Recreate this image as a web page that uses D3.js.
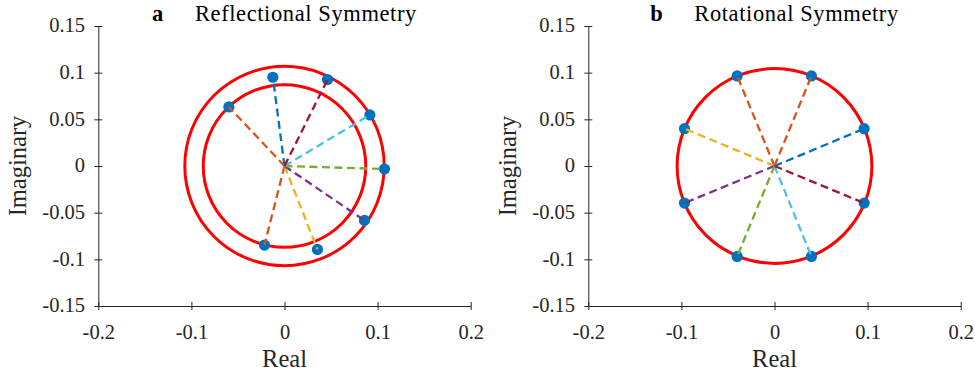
<!DOCTYPE html>
<html>
<head>
<meta charset="utf-8">
<script src="https://cdn.jsdelivr.net/npm/d3@7"></script>
<style>
  html, body { margin: 0; padding: 0; background: #fff; }
  svg { display: block; }
  text { font-family: "Liberation Serif", "Times New Roman", serif; fill: #262626; }
</style>
</head>
<body>
<svg id="chart" width="975" height="376"></svg>
<script>
// ---------------- data ----------------
const xTicks = [-0.2, -0.1, 0, 0.1, 0.2];
const xTickLabels = ["-0.2", "-0.1", "0", "0.1", "0.2"];
const yTicks = [-0.15, -0.1, -0.05, 0, 0.05, 0.1, 0.15];
const yTickLabels = ["-0.15", "-0.1", "-0.05", "0", "0.05", "0.1", "0.15"];

const panelLetters = ["a", "b"];
const panelTitles = ["Reflectional Symmetry", "Rotational Symmetry"];
const xLabel = "Real";
const yLabel = "Imaginary";

// Panel a: eigenvalues (real, imaginary), in plotting order
const realA = [-0.0125, -0.0598, -0.0215, 0.0354, 0.0859, 0.1074, 0.0917, 0.0462];
const imagA = [0.0951, 0.0633, -0.0847, -0.0894, -0.0583, -0.0032, 0.0547, 0.0926];
// Panel a: circle radii
const radiiA = [0.1071, 0.0873];

// Panel b
const realB = [0.0963, 0.0397, -0.0401, -0.0967, -0.0967, -0.0401, 0.0397, 0.0963];
const imagB = [0.0400, 0.0965, 0.0965, 0.0400, -0.0397, -0.0969, -0.0969, -0.0397];
const radiiB = [0.1046];

// line colour index per series (MATLAB default order)
const seriesColorIdxA = [0, 1, 1, 2, 3, 4, 5, 6];
const seriesColorIdxB = [0, 1, 1, 2, 3, 4, 5, 6];

// ---------------- styles ----------------
const palette = ["#0072BD", "#D95319", "#EDB120", "#7E2F8E", "#77AC30", "#4DBEEE", "#A2142F"];
const axisColor = "#262626";
const serif = '"Liberation Serif", "Times New Roman", serif';

const svg = d3.select("#chart");

const panels = [
  { left: 98.3, right: 470.7, re: realA, im: imagA, radii: radiiA, cidx: seriesColorIdxA },
  { left: 588.3, right: 960.7, re: realB, im: imagB, radii: radiiB, cidx: seriesColorIdxB }
];
const plotTop = 26, plotBottom = 306;

panels.forEach((p, pi) => {
  const x = d3.scaleLinear().domain([-0.2, 0.2]).range([p.left, p.right]);
  const y = d3.scaleLinear().domain([-0.15, 0.15]).range([plotBottom, plotTop]);
  const g = svg.append("g");

  // axes
  const xAxis = d3.axisBottom(x).tickValues(xTicks).tickSizeOuter(0).tickSizeInner(4)
      .tickFormat((d, i) => xTickLabels[i]);
  const gx = g.append("g").attr("transform", `translate(0,${plotBottom})`).call(xAxis)
      .attr("font-family", serif);
  gx.select(".domain").attr("stroke", axisColor).attr("stroke-width", 1);
  gx.selectAll(".tick line").attr("stroke", axisColor).attr("y1", -4).attr("y2", 4);
  gx.selectAll(".tick text").attr("y", 33).attr("dy", null)
      .style("font-size", "20.5px").attr("fill", axisColor)
      .style("font-family", serif);

  const yAxis = d3.axisLeft(y).tickValues(yTicks).tickSizeOuter(0).tickSizeInner(4)
      .tickFormat((d, i) => yTickLabels[i]);
  const gy = g.append("g").attr("transform", `translate(${p.left},0)`).call(yAxis)
      .attr("font-family", serif);
  gy.select(".domain").attr("stroke", axisColor).attr("stroke-width", 1);
  gy.selectAll(".tick line").attr("stroke", axisColor).attr("x1", -4).attr("x2", 4);
  gy.selectAll(".tick text").attr("x", -13.3).attr("dy", null).attr("y", 5.8)
      .style("font-size", "20.5px").attr("fill", axisColor)
      .style("font-family", serif);

  const cx = x(0), cy = y(0);

  // red circles
  g.selectAll("circle.ring").data(p.radii).enter().append("circle")
    .attr("class", "ring")
    .attr("cx", cx).attr("cy", cy)
    .attr("r", d => x(d) - x(0))
    .attr("fill", "none").attr("stroke", "#FF0000").attr("stroke-width", 3);

  const pts = p.re.map((r, i) => ({ re: r, im: p.im[i], c: palette[p.cidx[i]] }));

  // markers
  g.selectAll("circle.pt").data(pts).enter().append("circle")
    .attr("class", "pt")
    .attr("cx", d => x(d.re)).attr("cy", d => y(d.im))
    .attr("r", 5.6).attr("fill", "#0072BD");

  // dashed lines from origin
  g.selectAll("line.ray").data(pts).enter().append("line")
    .attr("class", "ray")
    .attr("x1", x(0)).attr("y1", y(0))
    .attr("x2", d => x(d.re)).attr("y2", d => y(d.im))
    .attr("stroke", d => d.c).attr("stroke-width", 2.3)
    .attr("stroke-dasharray", "8,4.5");

  // title
  const mid = (p.left + p.right) / 2;
  const t = g.append("text").attr("x", mid).attr("y", 20.5)
    .attr("text-anchor", "middle").style("font-size", "22.5px").style("fill", "#000")
    .style("letter-spacing", "0.6px");
  t.append("tspan").attr("font-weight", "bold").text(panelLetters[pi]);
  t.append("tspan").attr("dx", 31).text(panelTitles[pi]);

  // axis labels
  g.append("text").attr("x", mid).attr("y", 366.5).attr("text-anchor", "middle")
    .style("font-size", "24.5px").text(xLabel);
  g.append("text").attr("transform", `translate(${p.left - 72.3},${(plotTop + plotBottom) / 2}) rotate(-90)`)
    .attr("text-anchor", "middle").style("font-size", "24.5px").text(yLabel);
});
</script>
</body>
</html>
